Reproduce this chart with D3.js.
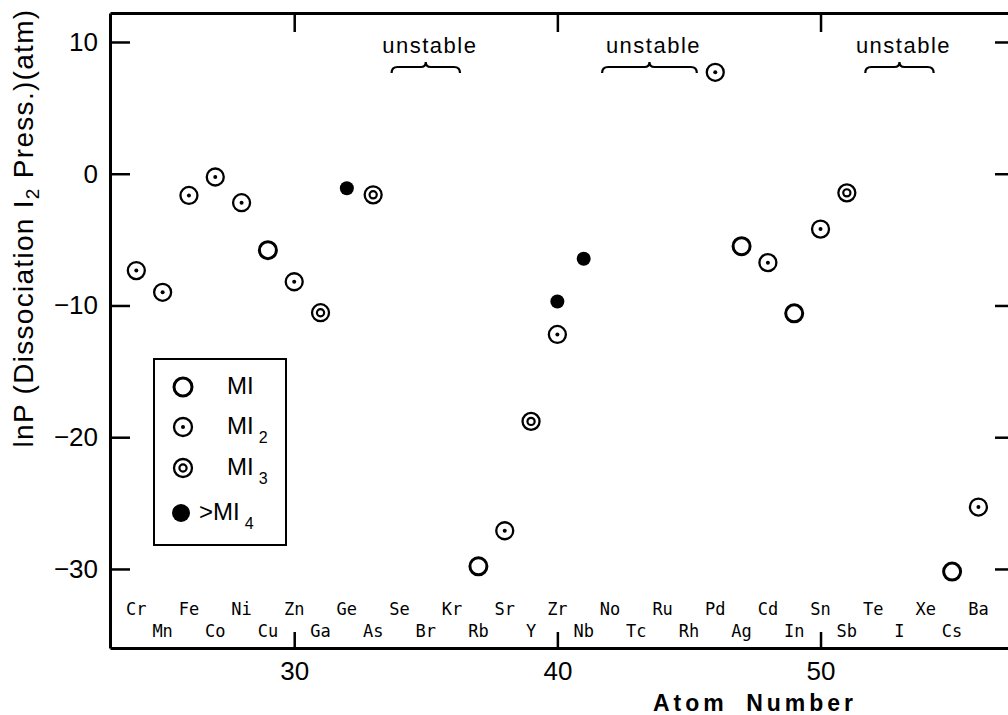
<!DOCTYPE html>
<html><head><meta charset="utf-8">
<script src="https://cdn.jsdelivr.net/npm/d3@7"></script>
<style>
body{margin:0;background:#fff}
svg{display:block}
text{fill:#000}
</style></head><body>
<svg id="chart" width="1008" height="715" font-family='"Liberation Sans",Arial,sans-serif'></svg>
<script>
// element symbols along the x axis (atom number 24..56)
const elementZ = d3.range(24, 57);
const elementNames = ["Cr","Mn","Fe","Co","Ni","Cu","Zn","Ga","Ge","As","Se","Br","Kr",
  "Rb","Sr","Y","Zr","Nb","No","Tc","Ru","Rh","Pd","Ag","Cd","In","Sn","Sb","Te","I","Xe","Cs","Ba"];

// lnP of the iodides, one pair of arrays per compound type
const miZ = [29, 37, 47, 49, 55];
const miLnP = [-5.8, -29.8, -5.5, -10.6, -30.2];
const mi2Z = [24, 25, 26, 27, 28, 30, 38, 40, 46, 48, 50, 56];
const mi2LnP = [-7.35, -9.0, -1.65, -0.25, -2.2, -8.2, -27.1, -12.2, 7.7, -6.75, -4.2, -25.3];
const mi3Z = [31, 33, 39, 51];
const mi3LnP = [-10.55, -1.6, -18.8, -1.45];
const mi4Z = [32, 40, 41];
const mi4LnP = [-1.1, -9.7, -6.45];

// ranges marked "unstable"
const unstableFrom = [34, 42, 52];
const unstableTo = [36, 45, 54];

const yTicks = [10, 0, -10, -20, -30];
const xTicks = [30, 40, 50];

const svg = d3.select("#chart");
const mLeft = 110, mRight = 1010, mTop = 13, mBottom = 648;
const sans = '"Liberation Sans",Arial,sans-serif';

const x = d3.scaleLinear().domain([23, 57.2]).range([mLeft, mRight]);
const y = d3.scaleLinear().domain([12.2, -36]).range([mTop, mBottom]);

function styleAxis(g) {
  g.select(".domain").attr("stroke-width", 3);
  g.selectAll(".tick line").attr("stroke-width", 2.5);
  g.selectAll(".tick text").attr("font-size", 26).attr("font-family", sans);
}

svg.append("g").attr("transform", `translate(${mLeft},0)`)
  .call(d3.axisLeft(y).tickValues(yTicks).tickSizeInner(-20).tickSizeOuter(0).tickPadding(12))
  .call(styleAxis);
svg.append("g").attr("transform", `translate(${mRight},0)`)
  .call(d3.axisRight(y).tickValues(yTicks).tickSizeInner(-15).tickSizeOuter(0).tickFormat(""))
  .call(styleAxis);
svg.append("g").attr("transform", `translate(0,${mBottom})`)
  .call(d3.axisBottom(x).tickValues(xTicks).tickSizeInner(-16).tickSizeOuter(0).tickPadding(14))
  .call(styleAxis);
svg.append("g").attr("transform", `translate(0,${mTop})`)
  .call(d3.axisTop(x).tickValues(xTicks).tickSizeInner(-19).tickSizeOuter(0).tickFormat(""))
  .call(styleAxis);

// axis titles
const yLabel = svg.append("text")
  .attr("transform", "translate(33,228) rotate(-90)")
  .attr("text-anchor", "middle").attr("font-size", 28).attr("letter-spacing", 1.3);
yLabel.append("tspan").text("lnP (Dissociation I");
yLabel.append("tspan").attr("font-size", 19).attr("dy", 6).text("2");
yLabel.append("tspan").attr("dy", -6).text(" Press.)(atm)");

svg.append("text").attr("x", 755).attr("y", 711).attr("text-anchor", "middle")
  .attr("font-size", 23).attr("font-weight", "bold").attr("letter-spacing", 4)
  .attr("word-spacing", 8).text("Atom Number");

// element labels, alternating rows
svg.append("g").selectAll("text").data(elementZ).join("text")
  .attr("x", d => x(d))
  .attr("y", d => d % 2 === 0 ? 615 : 637)
  .attr("text-anchor", "middle")
  .attr("font-family", '"DejaVu Sans Mono",monospace')
  .attr("font-size", 17)
  .text((d, i) => elementNames[i]);

// "unstable" braces
function brace(x0, x1, y0) {
  const m = (x0 + x1) / 2, p = d3.path();
  p.moveTo(x0, y0 + 6);
  p.quadraticCurveTo(x0, y0, x0 + 6, y0);
  p.lineTo(m - 5, y0);
  p.quadraticCurveTo(m, y0, m, y0 - 5);
  p.quadraticCurveTo(m, y0, m + 5, y0);
  p.lineTo(x1 - 6, y0);
  p.quadraticCurveTo(x1, y0, x1, y0 + 6);
  return p.toString();
}
const unstable = svg.append("g");
unstableFrom.forEach((z0, i) => {
  const x0 = x(z0 - 0.3), x1 = x(unstableTo[i] + 0.3);
  unstable.append("path").attr("d", brace(x0, x1, 67))
    .attr("fill", "none").attr("stroke", "#000").attr("stroke-width", 2.2);
  unstable.append("text").attr("x", (x0 + x1) / 2 + 4).attr("y", 53)
    .attr("text-anchor", "middle").attr("font-size", 22).attr("letter-spacing", 1.5)
    .text("unstable");
});

// marker drawing by compound type
function marker(g, type, big) {
  const r = big ? 9 : 8.5;
  if (type === "mi4") {
    g.append("circle").attr("r", big ? 9 : 7).attr("fill", "#000");
    return;
  }
  g.append("circle").attr("r", r).attr("fill", "#fff").attr("stroke", "#000")
    .attr("stroke-width", type === "mi" ? 3 : 2.3);
  if (type === "mi2") g.append("circle").attr("r", 2).attr("fill", "#000");
  if (type === "mi3") g.append("circle").attr("r", 3.6).attr("fill", "none")
    .attr("stroke", "#000").attr("stroke-width", 2.2);
}

const series = [
  {type: "mi", z: miZ, v: miLnP},
  {type: "mi2", z: mi2Z, v: mi2LnP},
  {type: "mi3", z: mi3Z, v: mi3LnP},
  {type: "mi4", z: mi4Z, v: mi4LnP}
];
const points = svg.append("g");
series.forEach(s => {
  s.z.forEach((z, i) => {
    const g = points.append("g").attr("transform", `translate(${x(z)},${y(s.v[i])})`);
    marker(g, s.type, false);
  });
});

// legend
const legend = svg.append("g");
legend.append("rect").attr("x", 154).attr("y", 359).attr("width", 132).attr("height", 186)
  .attr("fill", "#fff").attr("stroke", "#000").attr("stroke-width", 2);
const legendRows = [
  {type: "mi", sub: "", cy: 387},
  {type: "mi2", sub: "2", cy: 427},
  {type: "mi3", sub: "3", cy: 468},
  {type: "mi4", sub: "4", cy: 513}
];
legendRows.forEach(row => {
  const g = legend.append("g").attr("transform", `translate(${row.type === "mi4" ? 181 : 183},${row.cy})`);
  marker(g, row.type, true);
  const t = legend.append("text").attr("x", row.type === "mi4" ? 199 : 227).attr("y", row.cy + 7)
    .attr("font-size", 24);
  t.append("tspan").text(row.type === "mi4" ? ">MI" : "MI");
  if (row.sub) t.append("tspan").attr("dx", 5).attr("dy", 9).attr("font-size", 16).text(row.sub);
});
</script>
</body></html>
